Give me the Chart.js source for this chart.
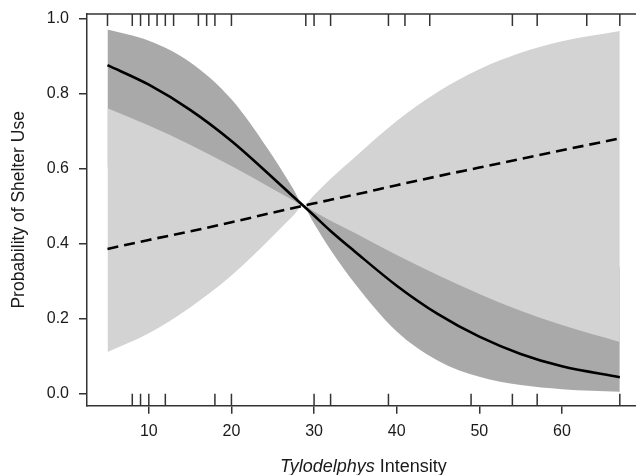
<!DOCTYPE html>
<html>
<head>
<meta charset="utf-8">
<script src="https://cdn.jsdelivr.net/npm/chart.js@4.4.1/dist/chart.umd.min.js"></script>
<style>
  html, body { margin: 0; padding: 0; background: #fff; overflow: hidden; }
  #wrap { position: relative; width: 636px; height: 475px; overflow: hidden; }
  #xTitle {
    position: absolute; left: 87px; width: 553px; top: 456px;
    text-align: center; font: 18px "Liberation Sans", Arial, sans-serif; color: #1a1a1a;
    line-height: 21px;
  }
</style>
</head>
<body>
<div id="wrap">
  <canvas id="chart" width="636" height="475"></canvas>
  <div id="xTitle"><i>Tylodelphys</i> Intensity</div>
</div>
<script>
// === DONNÉES ===
const intensite = [5, 10, 15, 20, 25, 27.5, 28.7, 29.9, 32, 35, 40, 45, 50, 55, 60, 67];

// courbe pleine + bande gris foncé
const pleineFit = [0.875, 0.823, 0.756, 0.673, 0.575, 0.524, 0.500, 0.476, 0.433, 0.377, 0.287, 0.211, 0.151, 0.105, 0.072, 0.043];
const pleineBas = [0.603, 0.582, 0.560, 0.537, 0.516, 0.505, 0.500, 0.456, 0.382, 0.291, 0.165, 0.087, 0.044, 0.022, 0.011, 0.004];
const pleineHaut = [0.970, 0.940, 0.883, 0.784, 0.632, 0.544, 0.500, 0.495, 0.486, 0.472, 0.450, 0.428, 0.406, 0.385, 0.364, 0.336];

// courbe pointillée + bande gris clair
const tiretFit = [0.385, 0.409, 0.432, 0.456, 0.482, 0.494, 0.500, 0.506, 0.516, 0.530, 0.555, 0.579, 0.602, 0.625, 0.648, 0.680];
const tiretBas = [0.110, 0.160, 0.229, 0.314, 0.419, 0.474, 0.500, 0.486, 0.460, 0.427, 0.369, 0.315, 0.265, 0.220, 0.182, 0.137];
const tiretHaut = [0.760, 0.714, 0.663, 0.606, 0.545, 0.514, 0.500, 0.526, 0.572, 0.631, 0.726, 0.804, 0.864, 0.908, 0.939, 0.966];

// rugs (observations)
const rugHaut = [5, 8, 9, 10, 11, 12, 13, 16, 17, 18, 20, 29, 30, 32, 39, 41, 44, 54, 57, 63, 67];
const rugBas = [8, 9, 10, 12, 18, 20, 30, 32, 39, 49, 54, 57, 67];

// graduations
const xTicks = [10, 20, 30, 40, 50, 60];
const yTicks = [0, 0.2, 0.4, 0.6, 0.8, 1.0];

const GRIS_FONCE = '#a9a9a9';
const GRIS_CLAIR = '#d3d3d3';
const AXE = '#333333';
const POLICE = '"Liberation Sans", Arial, sans-serif';

function serie(valeurs) {
  return intensite.map((x, i) => ({ x: x, y: valeurs[i] }));
}

// TRAIT DU HAUT + RUGS
const pluginRug = {
  id: 'rug',
  afterDatasetsDraw(chart) {
    const ctx = chart.ctx;
    const a = chart.chartArea;
    const sx = chart.scales.x;
    const longueur = 12;
    ctx.save();
    ctx.strokeStyle = AXE;
    ctx.lineWidth = 1.5;
    ctx.beginPath();
    ctx.moveTo(a.left - 0.75, a.top);
    ctx.lineTo(a.right + 10, a.top);
    rugHaut.forEach(v => {
      const px = sx.getPixelForValue(v);
      ctx.moveTo(px, a.top);
      ctx.lineTo(px, a.top + longueur);
    });
    rugBas.forEach(v => {
      const px = sx.getPixelForValue(v);
      ctx.moveTo(px, a.bottom);
      ctx.lineTo(px, a.bottom - longueur);
    });
    ctx.stroke();
    ctx.restore();
  }
};

const bande = (donnees, couleur, ordre, remplir) => ({
  data: serie(donnees),
  borderWidth: 0,
  borderColor: 'rgba(0,0,0,0)',
  backgroundColor: couleur,
  fill: remplir,
  pointRadius: 0,
  order: ordre
});

new Chart(document.getElementById('chart'), {
  type: 'line',
  data: {
    datasets: [
      bande(pleineBas, GRIS_FONCE, 3, false),
      bande(pleineHaut, GRIS_FONCE, 3, '-1'),
      bande(tiretBas, GRIS_CLAIR, 2, false),
      bande(tiretHaut, GRIS_CLAIR, 2, '-1'),
      {
        data: serie(pleineFit),
        borderColor: '#000',
        borderWidth: 2.6,
        pointRadius: 0,
        fill: false,
        order: 0
      },
      {
        data: serie(tiretFit),
        borderColor: '#000',
        borderWidth: 2.6,
        borderDash: [11, 6],
        pointRadius: 0,
        fill: false,
        order: 0
      }
    ]
  },
  options: {
    responsive: false,
    animation: false,
    events: [],
    layout: { padding: { top: 14, left: 0, right: 0, bottom: 0 } },
    elements: { line: { cubicInterpolationMode: 'monotone' } },
    plugins: {
      legend: { display: false },
      tooltip: { enabled: false },
      filler: { propagate: false }
    },
    scales: {
      x: {
        type: 'linear',
        min: 2.52,
        max: 68.96,
        afterBuildTicks: s => { s.ticks = xTicks.map(v => ({ value: v })); },
        afterFit: s => { s.height = 69.3; s.paddingLeft = 0; s.paddingRight = 0; },
        grid: { drawOnChartArea: false, drawTicks: true, tickLength: 8, color: AXE, lineWidth: 1.5 },
        border: { display: true, color: AXE, width: 1.5 },
        ticks: {
          padding: 8,
          maxRotation: 0,
          color: '#1a1a1a',
          font: { family: POLICE, size: 16 },
          callback: v => String(v)
        }
      },
      y: {
        type: 'linear',
        min: -0.033,
        max: 1.0115,
        afterBuildTicks: s => { s.ticks = yTicks.map(v => ({ value: v })); },
        afterFit: s => { s.width = 87; s.paddingTop = 0; s.paddingBottom = 0; },
        grid: { drawOnChartArea: false, drawTicks: true, tickLength: 8, color: AXE, lineWidth: 1.5 },
        border: { display: true, color: AXE, width: 1.5 },
        ticks: {
          padding: 10,
          color: '#1a1a1a',
          font: { family: POLICE, size: 16 },
          callback: v => Number(v).toFixed(1)
        },
        title: {
          display: true,
          text: 'Probability of Shelter Use',
          color: '#1a1a1a',
          padding: { top: 9, bottom: 0 },
          font: { family: POLICE, size: 17.5 }
        }
      }
    }
  },
  plugins: [pluginRug]
});
</script>
</body>
</html>
